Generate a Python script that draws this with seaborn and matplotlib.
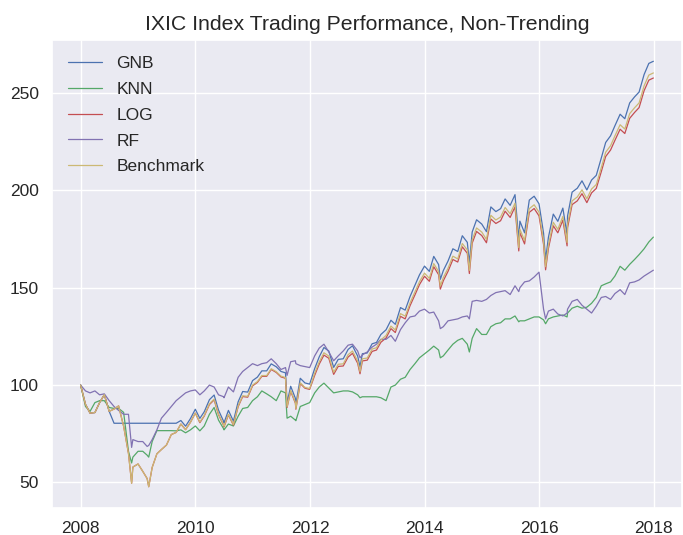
import pandas as pd
import seaborn as sns
import matplotlib.pyplot as plt
import matplotlib.dates as mdates

# month-end dates (plus a few intra-month lows) of the trading period
dates = [
    "2007-12-31",
    "2008-01-31", "2008-02-29", "2008-03-31", "2008-04-30", "2008-05-30", "2008-06-30",
    "2008-07-31", "2008-08-29", "2008-09-30", "2008-10-31", "2008-11-20", "2008-11-28", "2008-12-31",
    "2009-01-30", "2009-02-27", "2009-03-09", "2009-03-31", "2009-04-30", "2009-05-29", "2009-06-30",
    "2009-07-31", "2009-08-31", "2009-09-30", "2009-10-30", "2009-11-30", "2009-12-31",
    "2010-01-29", "2010-02-26", "2010-03-31", "2010-04-30", "2010-05-28", "2010-06-30", "2010-07-02",
    "2010-07-30", "2010-08-31", "2010-09-30", "2010-10-29", "2010-11-30", "2010-12-31",
    "2011-01-31", "2011-02-28", "2011-03-31", "2011-04-29", "2011-05-31", "2011-06-30", "2011-07-29",
    "2011-08-08", "2011-08-31", "2011-09-30", "2011-10-03", "2011-10-31", "2011-11-30", "2011-12-30",
    "2012-01-31", "2012-02-29", "2012-03-30", "2012-04-30", "2012-05-31", "2012-06-29", "2012-07-31",
    "2012-08-31", "2012-09-28", "2012-10-31", "2012-11-15", "2012-11-30", "2012-12-31",
    "2013-01-31", "2013-02-28", "2013-03-28", "2013-04-30", "2013-05-31", "2013-06-28", "2013-07-31",
    "2013-08-30", "2013-09-30", "2013-10-31", "2013-11-29", "2013-12-31",
    "2014-01-31", "2014-02-28", "2014-03-31", "2014-04-11", "2014-04-30", "2014-05-30", "2014-06-30",
    "2014-07-31", "2014-08-29", "2014-09-30", "2014-10-13", "2014-10-31", "2014-11-28", "2014-12-31",
    "2015-01-30", "2015-02-27", "2015-03-31", "2015-04-30", "2015-05-29", "2015-06-30", "2015-07-31",
    "2015-08-24", "2015-08-31", "2015-09-30", "2015-10-30", "2015-11-30", "2015-12-31",
    "2016-01-29", "2016-02-11", "2016-02-29", "2016-03-31", "2016-04-29", "2016-05-31", "2016-06-27",
    "2016-06-30", "2016-07-29", "2016-08-31", "2016-09-30", "2016-10-31", "2016-11-30", "2016-12-30",
    "2017-01-31", "2017-02-28", "2017-03-31", "2017-04-28", "2017-05-31", "2017-06-30", "2017-07-31",
    "2017-08-31", "2017-09-29", "2017-10-31", "2017-11-30", "2017-12-29",
]

gnb = [
    100.0,
    90.1, 85.6, 85.9, 91.0, 95.1, 86.5,
    80.4, 80.4, 80.4, 80.4, 80.4, 80.4, 80.4,
    80.4, 80.4, 80.4, 80.4, 80.4, 80.4, 80.4,
    80.4, 80.4, 81.8, 78.9, 82.8, 87.6,
    82.9, 86.3, 92.5, 94.9, 87.1, 81.3, 80.6,
    87.0, 81.5, 91.4, 96.7, 96.4, 102.3,
    104.1, 107.3, 107.3, 110.9, 109.4, 107.0, 106.3,
    90.9, 99.4, 93.2, 90.0, 103.5, 101.1, 100.5,
    108.5, 114.5, 119.3, 117.5, 109.1, 113.2, 113.5,
    118.3, 120.2, 114.9, 109.4, 116.1, 116.5,
    121.2, 121.9, 126.0, 128.4, 133.3, 131.2, 139.8,
    138.5, 145.5, 151.2, 156.6, 161.1,
    158.4, 166.1, 161.9, 154.3, 158.8, 163.7, 170.0,
    168.6, 176.7, 173.3, 162.6, 178.6, 184.9, 182.7,
    178.8, 191.5, 189.1, 190.6, 195.6, 192.3, 197.8,
    174.5, 184.2, 178.2, 195.0, 197.0, 193.1,
    178.0, 164.5, 175.9, 187.8, 184.1, 190.9, 177.2,
    186.8, 199.1, 201.1, 204.9, 200.2, 205.3, 207.7,
    216.6, 224.6, 228.0, 233.2, 239.1, 236.8, 244.9,
    248.0, 250.5, 259.5, 265.2, 266.3,
]

knn = [
    100.0,
    89.0, 86.5, 91.0, 92.0, 92.0, 88.5,
    88.0, 88.0, 86.0, 66.0, 60.0, 63.0, 66.0,
    66.0, 64.0, 63.0, 71.0, 76.6, 76.6, 76.6,
    76.6, 76.5, 77.0, 75.5, 77.0, 79.0,
    76.5, 79.0, 85.0, 88.5, 82.0, 77.5, 77.0,
    80.0, 79.0, 84.0, 88.0, 88.5, 92.0,
    94.0, 97.0, 95.5, 94.0, 92.0, 97.0, 96.0,
    83.0, 84.0, 82.0, 81.7, 89.0, 90.0, 91.0,
    96.0, 99.0, 101.0, 98.5, 96.0, 96.5, 97.0,
    97.0, 96.5, 95.0, 93.5, 94.0, 94.0,
    94.0, 94.0, 93.5, 92.0, 99.0, 100.0, 103.0,
    104.0, 108.0, 111.0, 114.0, 116.0,
    118.0, 120.0, 118.0, 114.0, 115.0, 118.0, 121.0,
    123.0, 124.0, 121.0, 117.0, 124.0, 129.0, 126.0,
    126.0, 130.0, 131.5, 132.0, 134.0, 134.0, 135.5,
    132.5, 133.0, 133.0, 134.0, 135.0, 135.0,
    133.5, 131.5, 134.0, 135.0, 135.5, 136.0, 135.0,
    137.0, 139.5, 140.5, 139.5, 140.0, 142.0, 145.0,
    151.0, 152.0, 153.0, 156.0, 161.0, 159.0, 162.0,
    164.5, 167.0, 170.0, 173.5, 176.0,
]

log = [
    100.0,
    90.1, 85.6, 85.9, 91.0, 95.1, 86.5,
    87.7, 89.3, 78.9, 64.9, 49.6, 57.9, 59.5,
    55.7, 52.0, 47.8, 57.7, 64.7, 66.9, 69.2,
    74.6, 75.7, 80.0, 77.1, 80.9, 85.6,
    80.7, 84.1, 90.0, 92.4, 84.8, 79.2, 78.5,
    84.7, 79.4, 88.9, 94.1, 93.8, 99.6,
    101.4, 104.5, 104.5, 108.0, 106.5, 104.2, 103.5,
    88.5, 96.8, 90.7, 87.6, 100.8, 98.4, 97.8,
    105.0, 110.8, 115.4, 113.8, 105.5, 109.6, 109.8,
    114.4, 116.3, 111.2, 105.8, 112.4, 112.8,
    117.3, 118.0, 122.0, 124.2, 129.0, 127.0, 135.3,
    134.0, 140.8, 146.3, 151.6, 155.9,
    153.3, 160.8, 156.7, 149.3, 153.6, 158.4, 164.5,
    163.2, 171.0, 167.7, 157.3, 172.9, 178.9, 176.8,
    173.1, 185.3, 183.0, 184.4, 189.3, 186.1, 191.5,
    168.9, 178.3, 172.5, 188.7, 190.7, 186.9,
    172.3, 159.2, 170.2, 181.8, 178.2, 184.7, 171.5,
    180.8, 192.7, 194.6, 198.3, 193.7, 198.7, 201.0,
    209.6, 217.4, 220.7, 225.7, 231.4, 229.2, 237.0,
    240.0, 242.5, 251.2, 256.6, 257.7,
]

rf = [
    100.0,
    97.0, 96.0, 97.0, 95.0, 95.5, 92.0,
    89.0, 87.0, 85.0, 85.0, 68.0, 72.0, 71.0,
    71.0, 68.5, 69.0, 72.0, 77.0, 83.0, 86.0,
    89.0, 92.0, 94.0, 96.0, 97.0, 97.5,
    95.0, 97.0, 100.0, 99.0, 95.0, 94.0, 93.5,
    99.0, 96.5, 104.0, 107.0, 109.0, 111.0,
    110.0, 111.0, 111.5, 113.5, 111.0, 108.0, 109.0,
    105.0, 112.0, 112.5, 111.0, 110.0, 109.5, 109.0,
    115.0, 119.0, 121.0, 117.0, 112.5, 115.0, 117.5,
    120.5, 121.0, 117.5, 114.0, 115.5, 117.0,
    119.5, 121.0, 123.5, 123.5, 125.5, 122.5, 128.5,
    132.0, 135.0, 135.5, 138.0, 139.0,
    137.0, 137.5, 133.0, 129.0, 130.0, 133.0, 133.5,
    134.0, 135.0, 135.5, 134.0, 143.0, 143.5, 143.0,
    144.0, 146.0, 147.5, 148.0, 148.5, 146.5, 151.0,
    148.0, 150.0, 153.0, 153.5, 155.5, 158.0,
    139.0, 134.0, 138.0, 139.0, 136.5, 135.5, 137.0,
    139.0, 143.0, 144.0, 141.0, 139.0, 137.0, 140.5,
    145.0, 145.5, 144.0, 147.0, 149.0, 146.5, 152.5,
    153.0, 154.0, 156.0, 157.5, 159.0,
]

benchmark = [
    100.0,
    90.1, 85.6, 85.9, 91.0, 95.1, 86.5,
    87.7, 89.3, 78.9, 64.9, 49.6, 57.9, 59.5,
    55.7, 52.0, 47.8, 57.7, 64.7, 66.9, 69.2,
    74.6, 75.7, 80.0, 77.1, 80.9, 85.6,
    81.0, 84.4, 90.4, 92.8, 85.1, 79.5, 78.8,
    85.0, 79.7, 89.3, 94.5, 94.2, 100.0,
    101.8, 104.9, 104.9, 108.4, 106.9, 104.6, 103.9,
    88.9, 97.2, 91.1, 88.0, 101.2, 98.8, 98.2,
    106.1, 111.9, 116.6, 114.9, 106.6, 110.7, 110.9,
    115.6, 117.5, 112.3, 106.9, 113.5, 113.9,
    118.5, 119.2, 123.2, 125.5, 130.3, 128.3, 136.7,
    135.4, 142.2, 147.8, 153.1, 157.5,
    154.8, 162.4, 158.3, 150.8, 155.2, 160.0, 166.2,
    164.8, 172.7, 169.4, 158.9, 174.6, 180.7, 178.6,
    174.8, 187.2, 184.8, 186.3, 191.2, 188.0, 193.4,
    170.6, 180.1, 174.2, 190.6, 192.6, 188.8,
    174.0, 160.8, 171.9, 183.6, 180.0, 186.6, 173.2,
    182.6, 194.6, 196.6, 200.3, 195.7, 200.7, 203.0,
    211.7, 219.6, 222.9, 228.0, 233.7, 231.5, 239.4,
    242.4, 244.9, 253.7, 259.2, 260.3,
]

series = {"GNB": gnb, "KNN": knn, "LOG": log, "RF": rf, "Benchmark": benchmark}
colors = ["#4C72B0", "#55A868", "#C44E52", "#8172B2", "#CCB974"]

sns.set_theme(style="darkgrid")
plt.rcParams["font.family"] = ["Liberation Sans", "DejaVu Sans"]

df = pd.DataFrame(series)
df["Date"] = pd.to_datetime(dates)

fig = plt.figure(figsize=(6.83, 5.35), dpi=100)
ax = fig.add_axes([52 / 683, 27 / 535, 630 / 683, 468 / 535])

for name, color in zip(series, colors):
    sns.lineplot(data=df, x="Date", y=name, color=color, linewidth=0.9, label=name, ax=ax)

ax.set_xlabel("")
ax.set_ylabel("")
ax.set_title("IXIC Index Trading Performance, Non-Trending", fontsize=15.3, pad=7)
ax.xaxis.set_major_locator(mdates.YearLocator(2))
ax.xaxis.set_major_formatter(mdates.DateFormatter("%Y"))
ax.tick_params(labelsize=12.5)
ax.legend(loc="upper left", fontsize=12.5, frameon=False, labelspacing=0.62)

fig.savefig("out.png", dpi=100)
plt.close(fig)
